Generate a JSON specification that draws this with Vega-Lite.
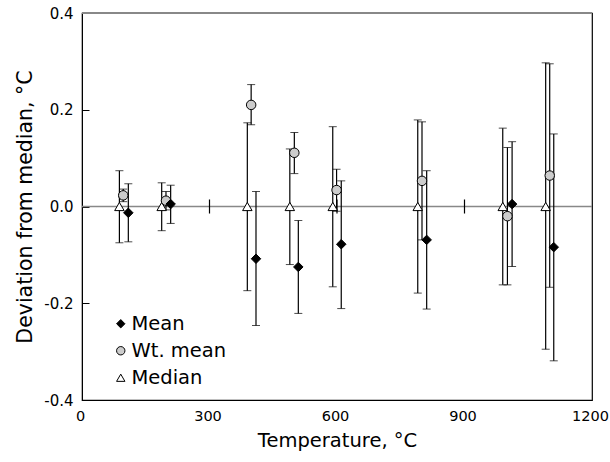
{
  "$schema": "https://vega.github.io/schema/vega-lite/v6.json",
  "width": 510,
  "height": 387,
  "autosize": {"type": "none"},
  "padding": {"left": 82, "top": 13, "right": 18, "bottom": 62},
  "background": "white",
  "config": {
    "font": "DejaVu Sans",
    "view": {"stroke": "black", "strokeWidth": 1.2},
    "axis": {"grid": false, "labelColor": "black", "titleColor": "black", "domainColor": "black", "tickColor": "black", "labelFont": "DejaVu Sans", "titleFont": "DejaVu Sans", "titleFontWeight": "normal"},
    "legend": {"labelFont": "DejaVu Sans"}
  },
  "datasets": {
    "pts": [
      {"series": "Median", "temp": 88, "value": 0, "lo": -0.075, "hi": 0.074},
      {"series": "Median", "temp": 187.5, "value": 0, "lo": -0.05, "hi": 0.049},
      {"series": "Median", "temp": 389, "value": 0, "lo": -0.174, "hi": 0.173},
      {"series": "Median", "temp": 489, "value": 0, "lo": -0.12, "hi": 0.119},
      {"series": "Median", "temp": 590, "value": 0, "lo": -0.166, "hi": 0.165},
      {"series": "Median", "temp": 790, "value": 0, "lo": -0.179, "hi": 0.179},
      {"series": "Median", "temp": 990, "value": 0, "lo": -0.162, "hi": 0.162},
      {"series": "Median", "temp": 1091, "value": 0, "lo": -0.295, "hi": 0.297},
      {"series": "Wt. mean", "temp": 97, "value": 0.023, "lo": 0.01, "hi": 0.036},
      {"series": "Wt. mean", "temp": 197.6, "value": 0.012, "lo": -0.007, "hi": 0.031},
      {"series": "Wt. mean", "temp": 398, "value": 0.21, "lo": 0.169, "hi": 0.252},
      {"series": "Wt. mean", "temp": 499.6, "value": 0.111, "lo": 0.068, "hi": 0.153},
      {"series": "Wt. mean", "temp": 599, "value": 0.034, "lo": -0.01, "hi": 0.077},
      {"series": "Wt. mean", "temp": 800, "value": 0.053, "lo": -0.069, "hi": 0.175},
      {"series": "Wt. mean", "temp": 1001, "value": -0.02, "lo": -0.162, "hi": 0.122},
      {"series": "Wt. mean", "temp": 1100.5, "value": 0.064, "lo": -0.167, "hi": 0.295},
      {"series": "Mean", "temp": 109, "value": -0.013, "lo": -0.073, "hi": 0.047},
      {"series": "Mean", "temp": 208.6, "value": 0.005, "lo": -0.035, "hi": 0.044},
      {"series": "Mean", "temp": 409.4, "value": -0.108, "lo": -0.246, "hi": 0.031},
      {"series": "Mean", "temp": 509, "value": -0.125, "lo": -0.221, "hi": -0.029},
      {"series": "Mean", "temp": 610, "value": -0.078, "lo": -0.211, "hi": 0.053},
      {"series": "Mean", "temp": 811, "value": -0.069, "lo": -0.212, "hi": 0.074},
      {"series": "Mean", "temp": 1012, "value": 0.005, "lo": -0.124, "hi": 0.134},
      {"series": "Mean", "temp": 1110, "value": -0.084, "lo": -0.319, "hi": 0.15}
    ],
    "zticks": [{"t": 300}, {"t": 600}, {"t": 900}]
  },
  "layer": [
    {
      "data": {"values": [{"z": 0}]},
      "mark": {"type": "rule", "color": "#888888", "strokeWidth": 1.5},
      "encoding": {"y": {"field": "z", "type": "quantitative", "scale": {"domain": [-0.4, 0.4]}, "title": "Deviation from median, °C"}}
    },
    {
      "data": {"values": [{"z": 0.4}]},
      "mark": {"type": "rule", "color": "#888888", "strokeWidth": 1.8},
      "encoding": {"y": {"field": "z", "type": "quantitative", "title": "Deviation from median, °C"}}
    },
    {
      "data": {"name": "zticks"},
      "mark": {"type": "rule", "color": "black", "strokeWidth": 1.2},
      "encoding": {
        "x": {"field": "t", "type": "quantitative", "title": "Temperature, °C"},
        "y": {"datum": -0.0145},
        "y2": {"datum": 0.0145}
      }
    },
    {
      "data": {"name": "pts"},
      "mark": {"type": "errorbar", "ticks": {"size": 8, "color": "black", "strokeWidth": 1.2}, "rule": {"color": "black", "strokeWidth": 1.2}},
      "encoding": {
        "x": {"field": "temp", "type": "quantitative", "title": "Temperature, °C"},
        "y": {"field": "lo", "type": "quantitative", "title": "Deviation from median, °C"},
        "y2": {"field": "hi"}
      }
    },
    {
      "data": {"name": "pts"},
      "mark": {"type": "point", "filled": true, "strokeWidth": 1, "opacity": 1, "size": 90},
      "encoding": {
        "x": {
          "field": "temp", "type": "quantitative",
          "scale": {"domain": [0, 1200], "nice": false},
          "axis": {"values": [0, 300, 600, 900, 1200], "format": "d", "ticks": false, "domain": false, "labelFlush": false, "labelOffset": -2, "labelFontSize": 14.5, "labelPadding": 9, "titleFontSize": 19.5, "titlePadding": 9},
          "title": "Temperature, °C"
        },
        "y": {
          "field": "value", "type": "quantitative",
          "scale": {"domain": [-0.4, 0.4], "nice": false},
          "axis": {"values": [-0.4, -0.2, 0, 0.2, 0.4], "labelExpr": "replace(format(datum.value, '.1f'), '\u2212', '-')", "labelFlush": false, "tickSize": -7, "labelPadding": 16, "labelFontSize": 15, "titleFontSize": 20.5, "titlePadding": 8},
          "title": "Deviation from median, °C"
        },
        "shape": {
          "field": "series", "type": "nominal",
          "scale": {"domain": ["Mean", "Wt. mean", "Median"], "range": ["diamond", "circle", "triangle-up"]},
          "legend": {"title": null, "orient": "none", "legendX": 29, "legendY": 301, "padding": 0, "labelFontSize": 19.5, "labelColor": "black", "rowPadding": 6, "symbolSize": 70, "symbolStrokeWidth": 1, "labelOffset": 1}
        },
        "fill": {
          "field": "series", "type": "nominal",
          "scale": {"domain": ["Mean", "Wt. mean", "Median"], "range": ["black", "#cccccc", "white"]},
          "legend": {"title": null, "orient": "none", "legendX": 29, "legendY": 301, "padding": 0, "labelFontSize": 19.5, "labelColor": "black", "rowPadding": 6, "symbolSize": 70, "symbolStrokeWidth": 1, "labelOffset": 1}
        },
        "stroke": {
          "field": "series", "type": "nominal",
          "scale": {"domain": ["Mean", "Wt. mean", "Median"], "range": ["black", "black", "black"]},
          "legend": {"title": null, "orient": "none", "legendX": 29, "legendY": 301, "padding": 0, "labelFontSize": 19.5, "labelColor": "black", "rowPadding": 6, "symbolSize": 70, "symbolStrokeWidth": 1, "labelOffset": 1}
        }
      }
    }
  ]
}
